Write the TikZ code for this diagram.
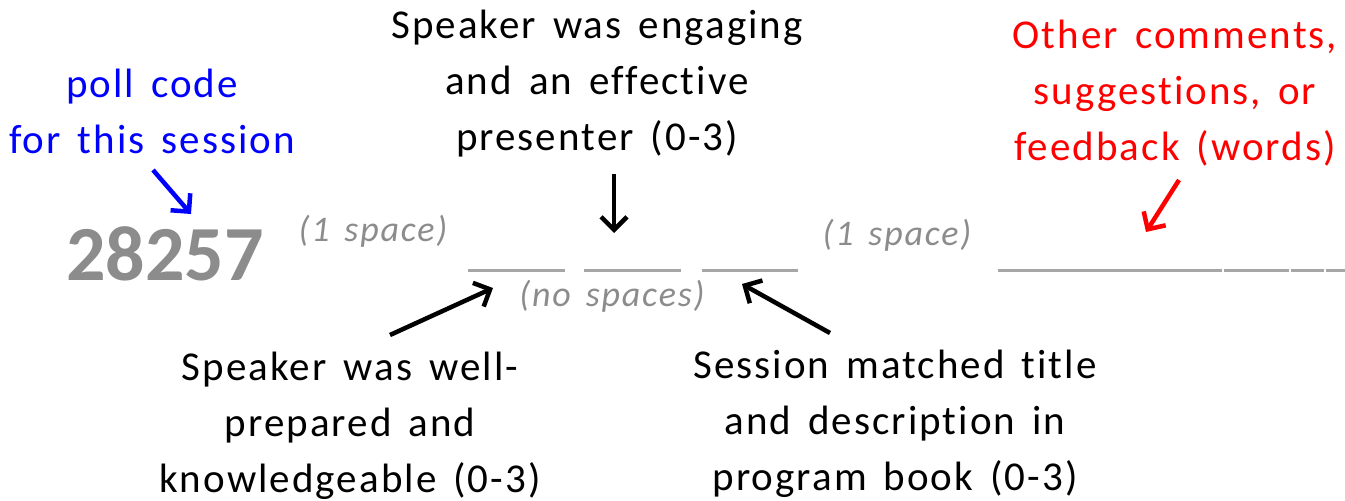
\documentclass[tikz,border=0pt]{standalone}
\usepackage{fontspec}
\setmainfont{Carlito}[LetterSpace=5, WordSpace=1.5, Ligatures=NoCommon]
\newfontfamily\codefont{Carlito}
\usetikzlibrary{arrows.meta}
\definecolor{hint}{HTML}{8C8C8C}
\definecolor{blankline}{HTML}{A6A6A6}
\definecolor{pollblue}{HTML}{0000FF}
\definecolor{notered}{HTML}{FF0000}
\tikzset{
  label/.style={font=\fontsize{41}{56}\selectfont, align=center, inner sep=0pt},
  hinttext/.style={font=\fontsize{36}{40}\selectfont\itshape, text=hint, inner sep=0pt},
  pointer/.style={line width=4.5pt, -{Straight Barb[length=13pt, width=26pt, line width=4.5pt]}},
  blank/.style={draw=blankline, line width=3pt}
}
\begin{document}
\begin{tikzpicture}[x=1pt, y=-1pt]
\useasboundingbox (0,0) rectangle (1345,501);

% descriptive labels
\node[label, text=pollblue] (poll) at (152,111) {poll code\\for this session};
\node[label] (engaging) at (597,84) {Speaker was engaging\\and an effective\\presenter (0-3)};
\node[label, text=notered] (other) at (1175,93) {Other comments,\\suggestions, or\\feedback (words)};
\node[label] (prepared) at (350,426) {Speaker was well-\\prepared and\\knowledgeable (0-3)};
\node[label] (session) at (895,424) {Session matched title\\and description in\\program book (0-3)};

% the code line
\node[font=\fontsize{78}{80}\selectfont\codefont\bfseries, text=hint, inner sep=0pt] (code) at (165,254) {28257};
\node[hinttext] (sp1) at (373,231) {(1 space)};
\node[hinttext] (sp2) at (897,235) {(1 space)};
\node[hinttext] (nosp) at (612,296) {(no spaces)};

% answer blanks
\coordinate (b1l) at (468,270); \coordinate (b1r) at (565,270);
\coordinate (b2l) at (584,270); \coordinate (b2r) at (681,270);
\coordinate (b3l) at (702,270); \coordinate (b3r) at (798,270);
\draw[blank] (b1l) -- (b1r);
\draw[blank] (b2l) -- (b2r);
\draw[blank] (b3l) -- (b3r);
\coordinate (c1) at (998,270); \coordinate (c2) at (1222,270);
\coordinate (c3) at (1224,270); \coordinate (c4) at (1289,270);
\coordinate (c5) at (1291,270); \coordinate (c6) at (1324,270);
\coordinate (c7) at (1326,270); \coordinate (c8) at (1345,270);
\draw[blank] (c1) -- (c2);
\draw[blank] (c3) -- (c4);
\draw[blank] (c5) -- (c6);
\draw[blank] (c7) -- (c8);

% pointers
\coordinate (pollTip) at (191,214);
\coordinate (pollTail) at (153,170);
\draw[pointer, draw=pollblue] (pollTail) -- (pollTip);
\coordinate (engTail) at (614,174);
\coordinate (engTip) at (614,233);
\draw[pointer] (engTail) -- (engTip);
\coordinate (otherTail) at (1179,180);
\coordinate (otherTip) at (1146,232);
\draw[pointer, draw=notered] (otherTail) -- (otherTip);
\coordinate (prepTail) at (390,335);
\coordinate (prepTip) at (493,288);
\draw[pointer] (prepTail) -- (prepTip);
\coordinate (sessTail) at (830,333);
\coordinate (sessTip) at (742,284);
\draw[pointer] (sessTail) -- (sessTip);
\end{tikzpicture}
\end{document}
